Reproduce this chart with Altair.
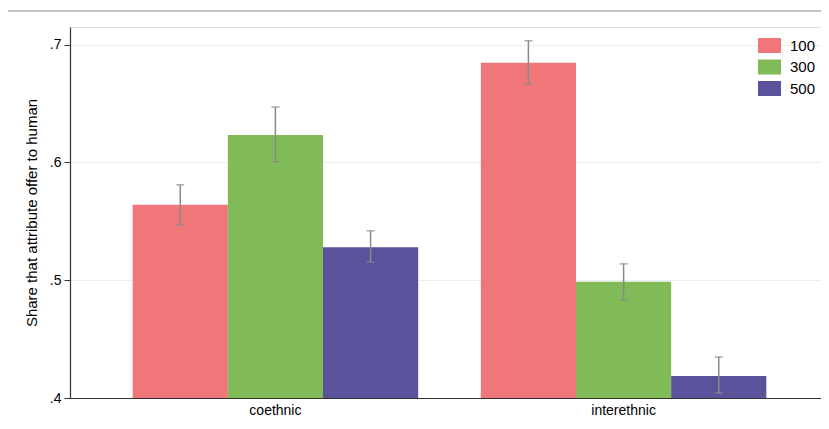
import altair as alt
import pandas as pd

groups = ["coethnic", "coethnic", "coethnic", "interethnic", "interethnic", "interethnic"]
amounts = ["100", "300", "500", "100", "300", "500"]
shares = [0.564, 0.6234, 0.528, 0.6846, 0.4986, 0.4187]
ci_lo = [0.547, 0.6005, 0.5155, 0.6668, 0.4833, 0.4042]
ci_hi = [0.581, 0.647, 0.542, 0.7033, 0.5139, 0.4348]
y_ticks = [0.4, 0.5, 0.6, 0.7]
legend_labels = ["100", "300", "500"]
colors = ["#EF777A", "#80BB58", "#5B529C"]

df = pd.DataFrame({"group": groups, "amount": amounts, "share": shares,
                   "lo": ci_lo, "hi": ci_hi})

FONT = "Liberation Sans"

x_enc = alt.X("group:N", sort=["coethnic", "interethnic"],
              scale=alt.Scale(paddingInner=0.18, paddingOuter=0.18),
              axis=alt.Axis(title=None, ticks=False, labelAngle=0, labelFontSize=14,
                            labelPadding=5, labelColor="#000000",
                            domainColor="#333333", domainWidth=1.2, grid=False))
xo_enc = alt.XOffset("amount:N", sort=legend_labels,
                     scale=alt.Scale(paddingInner=0, paddingOuter=0))
y_scale = alt.Scale(domain=[0.4, 0.715], nice=False, zero=False)

bars = alt.Chart(df).mark_bar(opacity=1).encode(
    x=x_enc,
    xOffset=xo_enc,
    y=alt.Y("share:Q", scale=y_scale,
            axis=alt.Axis(title="Share that attribute offer to human", values=y_ticks,
                          labelExpr="substring(format(datum.value, '.1f'), 1)",
                          labelFontSize=14, labelColor="#000000", titleFontSize=15,
                          titleFontWeight="normal", titleColor="#000000", titlePadding=10,
                          tickSize=6, tickColor="#333333", domainColor="#333333",
                          domainWidth=1.2, labelPadding=3,
                          grid=True, gridColor="#EEEEEE", gridWidth=1)),
    y2=alt.datum(0.4),
    color=alt.Color("amount:N", sort=legend_labels,
                    scale=alt.Scale(domain=legend_labels, range=colors),
                    legend=alt.Legend(title=None, orient="none", legendX=692, legendY=11,
                                      padding=0, rowPadding=5.5,
                                      symbolType="M-1.533,-1L1.533,-1L1.533,1L-1.533,1Z",
                                      symbolSize=225, symbolStrokeWidth=0, symbolOpacity=1,
                                      labelFontSize=15, labelOffset=13, labelColor="#000000",
                                      labelFont=FONT)),
)

err = alt.Chart(df).mark_rule(color="#8A8A8A", strokeWidth=1.5).encode(
    x=alt.X("group:N", sort=["coethnic", "interethnic"]),
    xOffset=xo_enc,
    y=alt.Y("lo:Q", scale=y_scale),
    y2="hi:Q",
)
cap_lo = alt.Chart(df).mark_tick(color="#8A8A8A", size=8, thickness=1.5, orient="horizontal").encode(
    x=alt.X("group:N", sort=["coethnic", "interethnic"]),
    xOffset=xo_enc,
    y=alt.Y("lo:Q", scale=y_scale),
)
cap_hi = alt.Chart(df).mark_tick(color="#8A8A8A", size=8, thickness=1.5, orient="horizontal").encode(
    x=alt.X("group:N", sort=["coethnic", "interethnic"]),
    xOffset=xo_enc,
    y=alt.Y("hi:Q", scale=y_scale),
)

top_rule = alt.Chart(df).mark_rule(color="#C4C4C4", strokeWidth=1.2).encode(
    x=alt.value(-63), x2=alt.value(759), y=alt.value(-16)
)

chart = alt.layer(bars, err, cap_lo, cap_hi, top_rule).properties(
    width=759, height=371,
    autosize=alt.AutoSizeParams(type="none"),
    padding={"left": 62, "top": 19, "right": -8, "bottom": 23},
).configure_view(stroke=None).configure(font=FONT)

chart.save("out.html", embed_options={"renderer": "svg", "actions": False})
